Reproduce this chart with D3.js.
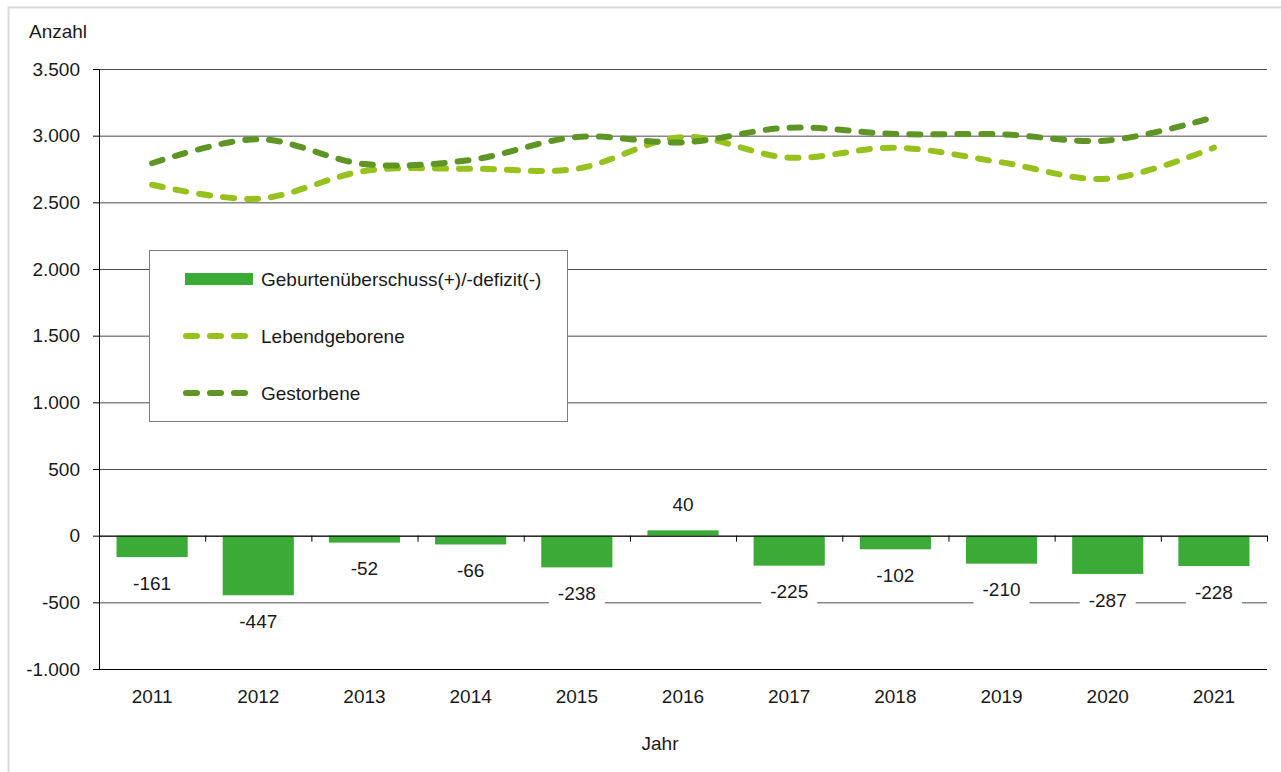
<!DOCTYPE html>
<html>
    <head>
        <meta charset="utf-8">
        <script src="https://d3js.org/d3.v7.min.js"></script>
        <style>
        body { margin: 0; background: #fff; }
        svg text {
            font-family: "Liberation Sans", Arial, sans-serif;
            font-size: 19px;
            fill: #1a1a1a;
        }
        </style>
    </head>
    <body>
        <div id="chartContainer"></div>
        <script type="text/javascript">
            // data
            var years = ["2011", "2012", "2013", "2014", "2015", "2016", "2017", "2018", "2019", "2020", "2021"];
            var surplus = [-161, -447, -52, -66, -238, 40, -225, -102, -210, -287, -228];
            var liveBirths = [2632, 2527, 2735, 2752, 2752, 2990, 2835, 2910, 2800, 2677, 2910];
            var deaths = [2793, 2974, 2787, 2818, 2990, 2950, 3060, 3012, 3010, 2964, 3138];
            var yTicks = [-1000, -500, 0, 500, 1000, 1500, 2000, 2500, 3000, 3500];
            var legendNames = ["Geburtenüberschuss(+)/-defizit(-)", "Lebendgeborene", "Gestorbene"];

            var width = 1281,
                height = 772,
                plotLeft = 99,
                plotRight = 1267,
                plotTop = 69,
                plotBottom = 669;

            var barColor = "#3caa36",
                liveColor = "#97c21e",
                deathColor = "#5e9524";

            var de = d3.formatLocale({decimal: ",", thousands: ".", grouping: [3], currency: ["", " €"], minus: "-"});
            var fmt = de.format(",d");

            var svg = d3.select("#chartContainer")
                        .append("svg")
                        .attr("width", width)
                        .attr("height", height);

            // outer frame
            svg.append("rect")
               .attr("x", 8.5).attr("y", 7.5)
               .attr("width", 1300).attr("height", 800)
               .attr("fill", "none")
               .attr("stroke", "#d9d9d9")
               .attr("stroke-width", 2);

            var x = d3.scaleBand().domain(years).range([plotLeft, plotRight])
                      .paddingInner(0.33).paddingOuter(0.165);
            var y = d3.scaleLinear().domain([-1000, 3500]).range([plotBottom, plotTop]);

            // gridlines
            svg.append("g")
               .attr("transform", "translate(" + plotLeft + ",0)")
               .call(d3.axisLeft(y).tickValues(yTicks).tickSize(-(plotRight - plotLeft)).tickFormat(""))
               .call(function(g) { g.select(".domain").remove(); })
               .selectAll("line").attr("stroke", "#4d4d4d");

            // y axis
            svg.append("g")
               .attr("transform", "translate(" + plotLeft + ",0)")
               .call(d3.axisLeft(y).tickValues(yTicks).tickSize(6).tickPadding(13).tickFormat(fmt))
               .call(function(g) {
                   g.select(".domain").attr("stroke", "#000").attr("d", "M0.5," + plotTop + "V" + plotBottom);
                   g.selectAll("text").attr("font-family", null).attr("font-size", null);
               });

            // bottom line
            svg.append("line")
               .attr("x1", plotLeft).attr("x2", plotRight)
               .attr("y1", plotBottom + 0.5).attr("y2", plotBottom + 0.5)
               .attr("stroke", "#000");

            // bars
            svg.append("g").selectAll("rect")
               .data(surplus)
               .join("rect")
               .attr("x", function(d, i) { return x(years[i]); })
               .attr("width", x.bandwidth())
               .attr("y", function(d) { return y(Math.max(0, d)); })
               .attr("height", function(d) { return Math.abs(y(d) - y(0)); })
               .attr("fill", barColor);

            // zero axis with ticks at category borders
            var edges = d3.scaleLinear().domain([0, years.length]).range([plotLeft, plotRight]);
            svg.append("g")
               .attr("transform", "translate(0," + y(0) + ")")
               .call(d3.axisBottom(edges).tickValues(d3.range(years.length + 1)).tickSize(6).tickSizeOuter(0).tickFormat(""))
               .call(function(g) {
                   g.select(".domain").attr("stroke", "#000");
               });

            // x labels
            svg.append("g")
               .attr("transform", "translate(0," + plotBottom + ")")
               .call(d3.axisBottom(x).tickSize(0).tickPadding(21))
               .call(function(g) {
                   g.select(".domain").remove();
                   g.selectAll("text").attr("font-family", null).attr("font-size", null);
               });

            // smoothed dashed lines
            var line = d3.line()
                         .x(function(d, i) { return x(years[i]) + x.bandwidth() / 2; })
                         .y(function(d) { return y(d); })
                         .curve(d3.curveCardinal.tension(0));

            [[liveBirths, liveColor], [deaths, deathColor]].forEach(function(s) {
                svg.append("path")
                   .datum(s[0])
                   .attr("d", line)
                   .attr("fill", "none")
                   .attr("stroke", s[1])
                   .attr("stroke-width", 6)
                   .attr("stroke-linecap", "round")
                   .attr("stroke-dasharray", "11,13");
            });

            // bar value labels on white boxes
            var labels = svg.append("g").selectAll("g")
               .data(surplus)
               .join("g")
               .attr("transform", function(d, i) {
                   var cy = d < 0 ? y(d) + 26 : y(d) - 26;
                   return "translate(" + (x(years[i]) + x.bandwidth() / 2) + "," + cy + ")";
               });
            labels.append("rect")
                  .attr("x", -28).attr("y", -15)
                  .attr("width", 56).attr("height", 30)
                  .attr("fill", "#fff");
            labels.append("text")
                  .attr("text-anchor", "middle")
                  .attr("dy", "0.35em")
                  .text(function(d) { return fmt(d); });

            // legend
            var legend = svg.append("g");
            legend.append("rect")
                  .attr("x", 149.5).attr("y", 250.5)
                  .attr("width", 418).attr("height", 171)
                  .attr("fill", "#fff")
                  .attr("stroke", "#7f7f7f");
            var rowY = [279, 336, 393];
            legend.append("rect")
                  .attr("x", 185).attr("y", rowY[0] - 6)
                  .attr("width", 68).attr("height", 12)
                  .attr("fill", barColor);
            [liveColor, deathColor].forEach(function(c, i) {
                legend.append("line")
                      .attr("x1", 186).attr("x2", 250)
                      .attr("y1", rowY[i + 1]).attr("y2", rowY[i + 1])
                      .attr("stroke", c)
                      .attr("stroke-width", 6)
                      .attr("stroke-linecap", "round")
                      .attr("stroke-dasharray", "11,13");
            });
            legend.selectAll("text")
                  .data(legendNames)
                  .join("text")
                  .attr("x", 261)
                  .attr("y", function(d, i) { return rowY[i]; })
                  .attr("dy", "0.35em")
                  .text(function(d) { return d; });

            // axis titles
            svg.append("text")
               .attr("x", 29).attr("y", 38)
               .text("Anzahl");
            svg.append("text")
               .attr("x", 660).attr("y", 750)
               .attr("text-anchor", "middle")
               .text("Jahr");
        </script>
    </body>
</html>
